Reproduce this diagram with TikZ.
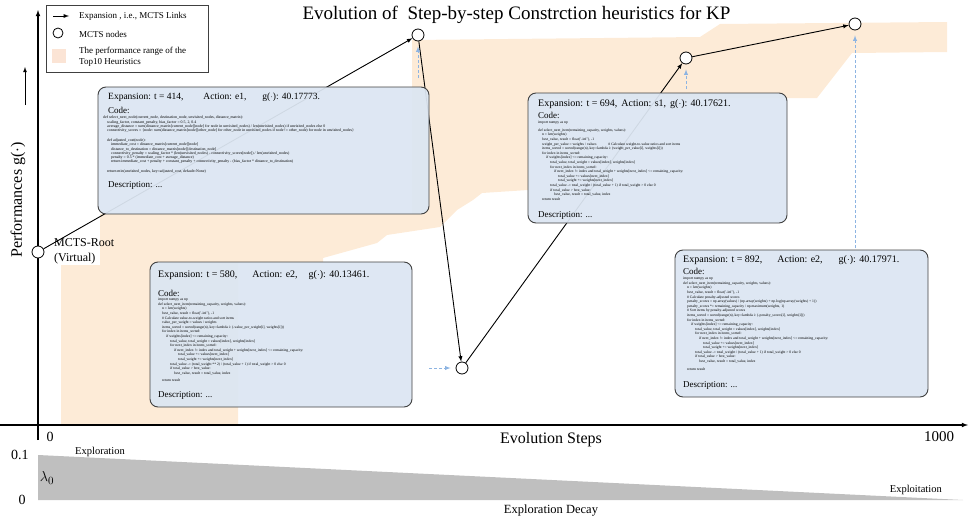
\documentclass[tikz,border=0pt]{standalone}
\usepackage{fontspec}
\setmainfont{Liberation Serif}
\usepackage{tikz}
\usetikzlibrary{arrows,positioning,calc}
\definecolor{boxblue}{RGB}{220,230,242}
\definecolor{boxline}{RGB}{64,64,64}
\definecolor{rangeorange}{RGB}{253,235,215}
\definecolor{legendorange}{RGB}{251,228,213}
\definecolor{hintblue}{RGB}{141,180,226}
\definecolor{decaygray}{RGB}{191,191,191}
\tikzstyle{mcts}=[circle,draw,fill=white,minimum size=12pt,inner sep=0pt,line width=0.8pt]
\tikzstyle{codebox}=[draw=boxline,fill=boxblue,fill opacity=0.94,rounded corners=8pt,line width=0.9pt]
\tikzstyle{head}=[anchor=west,inner sep=0pt,font=\fontsize{10}{12}\selectfont]
\tikzstyle{code}=[anchor=north west,inner sep=0pt,align=left,font=\fontsize{3.7}{4.6}\selectfont]
\tikzstyle{link}=[->,>=latex,line width=0.9pt]
\tikzstyle{hint}=[->,>=latex,dash pattern=on 3pt off 2pt,hintblue,line width=0.9pt,shorten >=5pt]
\tikzstyle{axis}=[->,>=latex,line width=1.1pt]
\tikzstyle{lbl}=[inner sep=0pt]
\newcommand{\codeind}[1]{\hspace*{#1pt}}

\begin{document}
\begin{tikzpicture}[x=1pt,y=-1pt]
\useasboundingbox (0,0) rectangle (970,522);
% range of the top10 heuristics
\fill[rangeorange] (61,424) -- (61,265) -- (100,265) -- (100,214) -- (412,214) -- (412,40) -- (700,37) -- (720,24)
  -- (947,22) -- (947,52) -- (852,53) -- (817,98) -- (528,98) -- (528,190) -- (482,193)
  -- (473,200) -- (457,210) -- (440,227) -- (387,235) -- (377,243) -- (323,258) -- (323,262)
  -- (238,262) -- (238,424) -- cycle;

\node[lbl,font=\fontsize{19}{22}\selectfont] (title) at (516.5,15) {Evolution of\ \ Step-by-step Constrction heuristics for KP};

% axes
\coordinate (yorig) at (38,440);
\coordinate (ytop) at (38,10);
\coordinate (xorig) at (0,425);
\coordinate (xend) at (968,425);
\draw[axis] (yorig) -- (ytop);
\draw[axis] (xorig) -- (xend);
\node[lbl,rotate=90,font=\fontsize{16}{18}\selectfont] (ylabel) at (18,200) {Performances g($\cdot$)};
\coordinate (yarrA) at (25,105);
\coordinate (yarrB) at (25,67);
\draw[->,>=latex,line width=0.8pt] (yarrA) -- (yarrB);
\node[lbl,font=\fontsize{14}{16}\selectfont] (xzero) at (50,437) {0};
\node[lbl,font=\fontsize{16}{18}\selectfont] (xlabel) at (551,440) {Evolution Steps};
\node[lbl,font=\fontsize{15}{17}\selectfont] (xthousand) at (939,437) {1000};

% mcts nodes
\node[mcts] (root) at (38,252) {};
\node[mcts] (n1) at (418,35) {};
\node[mcts] (n2) at (462,368) {};
\node[mcts] (n3) at (686,58) {};
\node[mcts] (n4) at (855,24) {};
\node[lbl,anchor=north west,align=left,font=\fontsize{12}{15}\selectfont] (rootlabel) at (54,238) {MCTS-Root\\(Virtual)};

\draw[link] (root) -- (n1);
\draw[link] (n1) -- (n2);
\draw[link] (n2) -- (n3);
\draw[link] (n3) -- (n4);

\coordinate (h1) at (418,78);
\coordinate (h2) at (429,368);
\coordinate (h3) at (686,89);
\coordinate (h4) at (855,248);
\draw[hint] (h1) -- (n1);
\draw[hint] (h2) -- (n2);
\draw[hint] (h3) -- (n3);
\draw[hint] (h4) -- (n4);

% expansion boxes
\node[codebox,minimum width=331pt,minimum height=127pt] (boxA) at (263.5,150.5) {};
\node[codebox,minimum width=262pt,minimum height=145pt] (boxB) at (281,334.5) {};
\node[codebox,minimum width=259pt,minimum height=130pt] (boxC) at (657.5,158) {};
\node[codebox,minimum width=253pt,minimum height=147pt] (boxD) at (801.5,323.5) {};

% t = 414
\node[head,font=\fontsize{9.5}{11}\selectfont] (headA) at (108,97) {Expansion: t = 414,\hspace{20pt}Action: e1,\hspace{16pt}g($\cdot$): 40.17773.};
\node[head,font=\fontsize{9}{11}\selectfont] (codeA) at (108,110) {Code:};
\node[code,font=\fontsize{3.9}{4.2}\selectfont] (srcA) at (103,116) {def select\_next\_node(current\_node, destination\_node, unvisited\_nodes, distance\_matrix):\\
\codeind{4}scaling\_factor, constant\_penalty, bias\_factor = 0.5, 2, 0.4\\
\codeind{4}average\_distance = sum(distance\_matrix[current\_node][node] for node in unvisited\_nodes) / len(unvisited\_nodes) if unvisited\_nodes else 0\\
\codeind{4}connectivity\_scores = \{node: sum(distance\_matrix[node][other\_node] for other\_node in unvisited\_nodes if node != other\_node) for node in unvisited\_nodes\}\\[6pt]
\codeind{4}def adjusted\_cost(node):\\
\codeind{8}immediate\_cost = distance\_matrix[current\_node][node]\\
\codeind{8}distance\_to\_destination = distance\_matrix[node][destination\_node]\\
\codeind{8}connectivity\_penalty = scaling\_factor * (len(unvisited\_nodes) - connectivity\_scores[node]) / len(unvisited\_nodes)\\
\codeind{8}penalty = 0.5 * (immediate\_cost + average\_distance)\\
\codeind{8}return immediate\_cost + penalty + constant\_penalty + connectivity\_penalty - (bias\_factor * distance\_to\_destination)\\[6pt]
\codeind{4}return min(unvisited\_nodes, key=adjusted\_cost, default=None)};
\node[head,font=\fontsize{9}{11}\selectfont] (descA) at (108,185) {Description: ...};

% t = 580
\node[head] (headB) at (158,275) {Expansion: t = 580,\hspace{15pt}Action: e2,\hspace{11pt}g($\cdot$): 40.13461.};
\node[head,font=\fontsize{9}{11}\selectfont] (codeB) at (158,293) {Code:};
\node[code] (srcB) at (158,298) {import numpy as np\\
def select\_next\_item(remaining\_capacity, weights, values):\\
\codeind{4}n = len(weights)\\
\codeind{4}best\_value, result = float('-inf'), -1\\
\codeind{4}\# Calculate value-to-weight ratios and sort items\\
\codeind{4}value\_per\_weight = values / weights\\
\codeind{4}items\_sorted = sorted(range(n), key=lambda i: (-value\_per\_weight[i], weights[i]))\\
\codeind{4}for index in items\_sorted:\\
\codeind{8}if weights[index] <= remaining\_capacity:\\
\codeind{12}total\_value, total\_weight = values[index], weights[index]\\
\codeind{12}for next\_index in items\_sorted:\\
\codeind{16}if next\_index != index and total\_weight + weights[next\_index] <= remaining\_capacity:\\
\codeind{20}total\_value += values[next\_index]\\
\codeind{20}total\_weight += weights[next\_index]\\
\codeind{12}total\_value -= (total\_weight ** 2) / (total\_value + 1) if total\_weight > 0 else 0\\
\codeind{12}if total\_value > best\_value:\\
\codeind{16}best\_value, result = total\_value, index\\[3pt]
\codeind{4}return result};
\node[head,font=\fontsize{9}{11}\selectfont] (descB) at (158,395) {Description: ...};

% t = 694
\node[head] (headC) at (538,104) {Expansion: t = 694,\hspace{4pt}Action: s1,\hspace{4pt}g($\cdot$): 40.17621.};
\node[head,font=\fontsize{9}{11}\selectfont] (codeC) at (538,115) {Code:};
\node[code] (srcC) at (538,121) {import numpy as np\\[3pt]
def select\_next\_item(remaining\_capacity, weights, values):\\
\codeind{4}n = len(weights)\\
\codeind{4}best\_value, result = float('-inf'), -1\\
\codeind{4}weight\_per\_value = weights / values\hspace{12pt}\# Calculate weight-to-value ratios and sort items\\
\codeind{4}items\_sorted = sorted(range(n), key=lambda i: (weight\_per\_value[i], weights[i]))\\
\codeind{4}for index in items\_sorted:\\
\codeind{8}if weights[index] <= remaining\_capacity:\\
\codeind{12}total\_value, total\_weight = values[index], weights[index]\\
\codeind{12}for next\_index in items\_sorted:\\
\codeind{16}if next\_index != index and total\_weight + weights[next\_index] <= remaining\_capacity:\\
\codeind{20}total\_value += values[next\_index]\\
\codeind{20}total\_weight += weights[next\_index]\\
\codeind{12}total\_value -= total\_weight / (total\_value + 1) if total\_weight > 0 else 0\\
\codeind{12}if total\_value > best\_value:\\
\codeind{16}best\_value, result = total\_value, index\\
\codeind{4}return result};
\node[head,font=\fontsize{9}{11}\selectfont] (descC) at (538,215) {Description: ...};

% t = 892
\node[head] (headD) at (683,260) {Expansion: t = 892,\hspace{15pt}Action: e2,\hspace{16pt}g($\cdot$): 40.17971.};
\node[head,font=\fontsize{9}{11}\selectfont] (codeD) at (683,271) {Code:};
\node[code] (srcD) at (683,277) {import numpy as np\\
def select\_next\_item(remaining\_capacity, weights, values):\\
\codeind{4}n = len(weights)\\
\codeind{4}best\_value, result = float('-inf'), -1\\
\codeind{4}\# Calculate penalty-adjusted scores\\
\codeind{4}penalty\_scores = np.array(values) / (np.array(weights) + np.log(np.array(weights) + 1))\\
\codeind{4}penalty\_scores *= remaining\_capacity / np.maximum(weights, 1)\\
\codeind{4}\# Sort items by penalty-adjusted scores\\
\codeind{4}items\_sorted = sorted(range(n), key=lambda i: (-penalty\_scores[i], weights[i]))\\
\codeind{4}for index in items\_sorted:\\
\codeind{8}if weights[index] <= remaining\_capacity:\\
\codeind{12}total\_value, total\_weight = values[index], weights[index]\\
\codeind{12}for next\_index in items\_sorted:\\
\codeind{16}if next\_index != index and total\_weight + weights[next\_index] <= remaining\_capacity:\\
\codeind{20}total\_value += values[next\_index]\\
\codeind{20}total\_weight += weights[next\_index]\\
\codeind{12}total\_value -= total\_weight / (total\_value + 1) if total\_weight > 0 else 0\\
\codeind{12}if total\_value > best\_value:\\
\codeind{16}best\_value, result = total\_value, index\\[3pt]
\codeind{4}return result};
\node[head,font=\fontsize{9}{11}\selectfont] (descD) at (683,385) {Description: ...};

% legend
\node[draw=boxline,line width=0.8pt,minimum width=162pt,minimum height=67pt,inner sep=0pt] (legend) at (127,38.5) {};
\coordinate (lgA) at (53,16);
\coordinate (lgB) at (69,16);
\draw[link] (lgA) -- (lgB);
\node[mcts,minimum size=10pt] (lgnode) at (58,33) {};
\node[fill=legendorange,minimum size=14pt,inner sep=0pt] (lgrange) at (59,56) {};
\node[lbl,anchor=west,font=\fontsize{9}{11}\selectfont] (lgtextA) at (79,16) {Expansion , i.e., MCTS Links};
\node[lbl,anchor=west,font=\fontsize{9}{11}\selectfont] (lgtextB) at (79,34) {MCTS nodes};
\node[lbl,anchor=west,align=left,font=\fontsize{9}{10.5}\selectfont] (lgtextC) at (79,57) {The performance range of the\\Top10 Heuristics};

% exploration decay
\coordinate (dtop) at (38,455);
\coordinate (dend) at (963,500);
\coordinate (dbot) at (38,500);
\fill[decaygray] (dtop) -- (dend) -- (dbot) -- cycle;
\node[lbl,font=\fontsize{14}{16}\selectfont] (dmax) at (20,455) {0.1};
\node[lbl,font=\fontsize{14}{16}\selectfont] (dmin) at (22,500) {0};
\node[lbl,font=\fontsize{15}{17}\selectfont] (lambda) at (47,478) {$\lambda_0$};
\node[lbl,anchor=west,font=\fontsize{10.5}{12}\selectfont] (explore) at (75,452) {Exploration};
\node[lbl,anchor=east,font=\fontsize{10.5}{12}\selectfont] (exploit) at (942,490) {Exploitation};
\node[lbl,font=\fontsize{12.5}{14}\selectfont] (decay) at (551,511) {Exploration Decay};
\end{tikzpicture}
\end{document}
